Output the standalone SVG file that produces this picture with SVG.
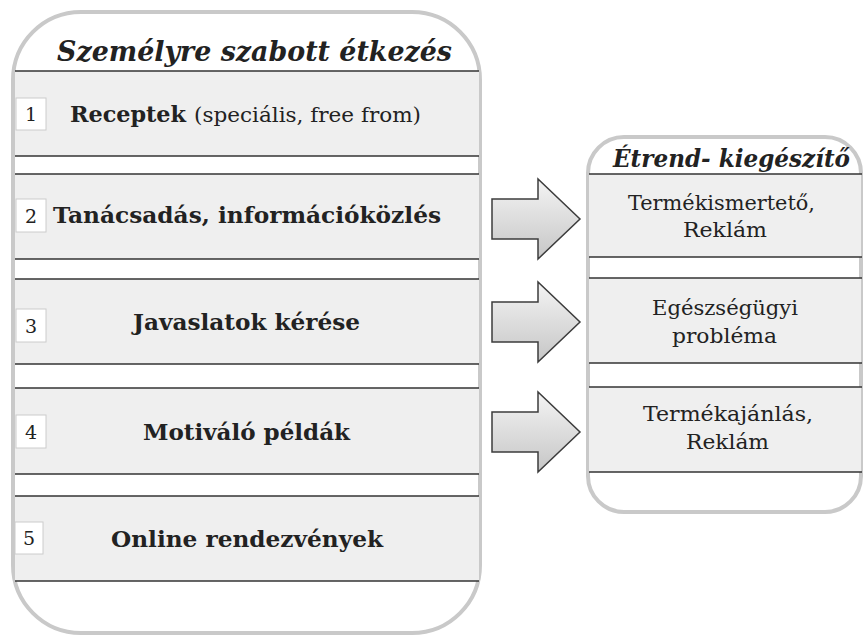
<svg xmlns="http://www.w3.org/2000/svg" width="863" height="637" viewBox="0 0 863 637">
<style>
text{font-family:"DejaVu Serif","Liberation Serif",serif;fill:#222}
.title{font-weight:bold;font-style:italic}
.b{font-weight:bold;font-size:22px}
.r{font-size:21px}
.num{font-size:19px;text-anchor:middle}
.frame{fill:#fff;stroke:#c9c9c9;stroke-width:4}
.band{fill:#efefef}
.ln{stroke:#333;stroke-width:1.6}
.nb{fill:#fff;stroke:#cccccc;stroke-width:1}
.arrow{fill:url(#ag);stroke:#3c3c3c;stroke-width:1.5;stroke-linejoin:miter}
</style>
<defs>
<linearGradient id="ag" x1="0" y1="0" x2="0" y2="1">
<stop offset="0" stop-color="#f4f4f4"/>
<stop offset="1" stop-color="#c6c6c6"/>
</linearGradient>
<path id="arr" d="M0,20 H46 V0 L88,40 L46,80 V60 H0 Z"/>
</defs>
<rect width="863" height="637" fill="#fff"/>

<g id="left-container">
<rect class="frame" x="13" y="12" width="467" height="621" rx="68" ry="68"/>
<text class="title" x="57" y="61" font-size="28" textLength="395" lengthAdjust="spacingAndGlyphs">Személyre szabott étkezés</text>
</g>

<g id="item1">
<rect class="band" x="15" y="71" width="464" height="85"/>
<line class="ln" x1="15" y1="71" x2="479" y2="71"/>
<line class="ln" x1="15" y1="156" x2="479" y2="156"/>
<rect class="nb" x="16" y="98" width="30" height="32"/>
<text class="num" x="31" y="121" font-size="14">1</text>
<text class="b" x="70" y="122" textLength="116" lengthAdjust="spacingAndGlyphs">Receptek</text>
<text class="r" x="194" y="122" textLength="227" lengthAdjust="spacingAndGlyphs">(speciális, free from)</text>
</g>

<g id="item2">
<rect class="band" x="15" y="174" width="464" height="85"/>
<line class="ln" x1="15" y1="174" x2="479" y2="174"/>
<line class="ln" x1="15" y1="259" x2="479" y2="259"/>
<rect class="nb" x="16" y="199" width="30" height="33"/>
<text class="num" x="31" y="223">2</text>
<text class="b" x="53" y="223" textLength="388" lengthAdjust="spacingAndGlyphs">Tanácsadás, információközlés</text>
</g>

<g id="item3">
<rect class="band" x="15" y="279" width="464" height="85"/>
<line class="ln" x1="15" y1="279" x2="479" y2="279"/>
<line class="ln" x1="15" y1="364" x2="479" y2="364"/>
<rect class="nb" x="16" y="309" width="30" height="33"/>
<text class="num" x="31" y="333">3</text>
<text class="b" x="133" y="330" textLength="227" lengthAdjust="spacingAndGlyphs">Javaslatok kérése</text>
</g>

<g id="item4">
<rect class="band" x="15" y="388" width="464" height="86"/>
<line class="ln" x1="15" y1="388" x2="479" y2="388"/>
<line class="ln" x1="15" y1="474" x2="479" y2="474"/>
<rect class="nb" x="16" y="415" width="30" height="33"/>
<text class="num" x="31" y="439">4</text>
<text class="b" x="143" y="440" textLength="207" lengthAdjust="spacingAndGlyphs">Motiváló példák</text>
</g>

<g id="item5">
<rect class="band" x="15" y="496" width="464" height="85"/>
<line class="ln" x1="15" y1="496" x2="479" y2="496"/>
<line class="ln" x1="15" y1="581" x2="479" y2="581"/>
<rect class="nb" x="15" y="522" width="28" height="32"/>
<text class="num" x="29" y="545">5</text>
<text class="b" x="111" y="547" textLength="272" lengthAdjust="spacingAndGlyphs">Online rendezvények</text>
</g>

<g id="connectors">
<use href="#arr" class="arrow" transform="translate(492,179)"/>
<use href="#arr" class="arrow" transform="translate(492,282)"/>
<use href="#arr" class="arrow" transform="translate(492,392)"/>
</g>

<g id="right-container">
<rect class="frame" x="588" y="137" width="273" height="375" rx="36" ry="36"/>
<text class="title" x="613" y="167" font-size="24" textLength="237" lengthAdjust="spacingAndGlyphs">Étrend- kiegészítő</text>
</g>

<g id="r1">
<rect class="band" x="589" y="174" width="272" height="83"/>
<line class="ln" x1="589" y1="174" x2="862" y2="174"/>
<line class="ln" x1="589" y1="257" x2="862" y2="257"/>
<text class="r" x="628" y="210" textLength="187" lengthAdjust="spacingAndGlyphs">Termékismertető,</text>
<text class="r" x="683" y="237" textLength="84" lengthAdjust="spacingAndGlyphs">Reklám</text>
</g>

<g id="r2">
<rect class="band" x="589" y="278" width="272" height="85"/>
<line class="ln" x1="589" y1="278" x2="862" y2="278"/>
<line class="ln" x1="589" y1="363" x2="862" y2="363"/>
<text class="r" x="652" y="315" textLength="146" lengthAdjust="spacingAndGlyphs">Egészségügyi</text>
<text class="r" x="672" y="343" textLength="105" lengthAdjust="spacingAndGlyphs">probléma</text>
</g>

<g id="r3">
<rect class="band" x="589" y="387" width="272" height="85"/>
<line class="ln" x1="589" y1="387" x2="862" y2="387"/>
<line class="ln" x1="589" y1="472" x2="862" y2="472"/>
<text class="r" x="643" y="421" textLength="170" lengthAdjust="spacingAndGlyphs">Termékajánlás,</text>
<text class="r" x="686" y="449" textLength="83" lengthAdjust="spacingAndGlyphs">Reklám</text>
</g>
</svg>
